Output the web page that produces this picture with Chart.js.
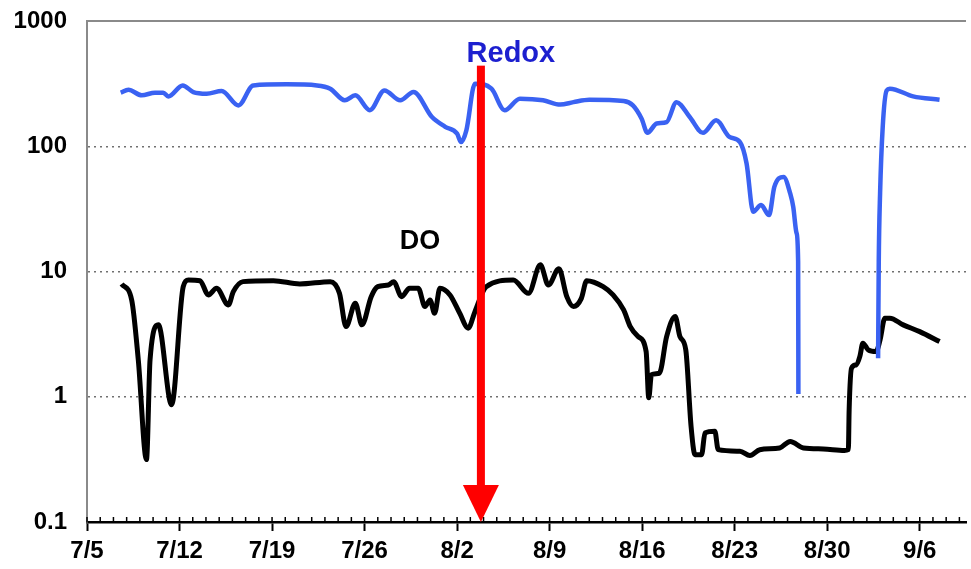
<!DOCTYPE html>
<html>
<head>
<meta charset="utf-8">
<script src="https://cdn.jsdelivr.net/npm/chart.js@4/dist/chart.umd.min.js"></script>
<style>
    body { margin: 0; background: #fff; }
    #caixa { width: 971px; height: 569px; }
</style>
</head>
<body>
<div id="caixa"><canvas id="grafico"></canvas></div>
<script>
// dias contados a partir de 7/5
const tickLabels = ["7/5", "7/12", "7/19", "7/26", "8/2", "8/9", "8/16", "8/23", "8/30", "9/6"];
const yTickValues = [0.1, 1, 10, 100, 1000];

const redoxDays = [
    2.55, 3.13, 4.14, 5.14, 5.77, 6.15, 7.24, 8.04, 9.05, 10.19,
    11.45, 12.58, 15.1, 17.4, 18.4, 19.5, 20.3, 21.4, 22.5, 23.7,
    24.7, 26.1, 27.1, 28.0, 28.3, 28.7, 29.35, 30.6, 31.6, 32.75,
    34.5, 35.8, 36.8, 38.0, 40.6, 41.3, 41.96, 42.4, 43.1, 43.85,
    44.6, 45.6, 46.6, 47.6, 48.6, 49.4, 49.9, 50.4, 51.0, 51.6,
    52.0, 52.7, 53.2, 53.43, 53.68, 53.8, 53.82, 56.5, 59.85, 59.9,
    60.0, 60.2, 60.5, 60.74, 62.5, 64.5
];
const redoxValues = [
    268, 283, 255, 268, 268, 250, 306, 271, 263, 276,
    212, 306, 312, 306, 288, 233, 255, 194, 279, 233,
    271, 171, 143, 126, 108, 134, 316, 288, 194, 240,
    233, 215, 225, 235, 230, 212, 166, 128, 152, 156,
    225, 171, 128, 161, 119, 108, 72.8, 30, 33.9, 28.2,
    47.4, 56.9, 42, 32.8, 20.3, 12, 1.05, null, 2.03, 12,
    42, 143, 279, 288, 250, 235
];

const doDays = [
    2.62, 3.38, 3.88, 4.5, 4.77, 5.4, 6.4, 7.28, 7.67, 8.55,
    9.18, 9.8, 10.7, 11.07, 11.8, 14.1, 16.1, 18.4, 19.1, 19.6,
    20.3, 20.8, 21.5, 22.0, 22.8, 23.2, 23.8, 24.4, 25.06, 25.57,
    25.95, 26.3, 26.7, 27.46, 28.2, 28.84, 29.35, 30.2, 32.25, 33.4,
    34.3, 34.9, 35.7, 36.3, 36.8, 37.4, 37.8, 39.05, 39.8, 40.6,
    41.1, 41.7, 42.3, 42.5, 42.7, 43.3, 43.85, 44.5, 44.86, 45.3,
    45.7, 46.0, 46.5, 46.75, 47.5, 47.75, 49.4, 50.15, 50.9, 52.4,
    53.2, 54.2, 55.7, 57.3, 57.6, 57.66, 57.84, 58.2, 58.47, 58.7,
    59.1, 59.7, 60.0, 60.36, 60.74, 61.75, 63.0, 64.5
];
const doValues = [
    7.95, 5.93, 1.97, 0.315, 1.97, 3.75, 0.863, 7.57, 8.55, 8.45,
    6.5, 7.35, 5.41, 6.9, 8.3, 8.45, 7.95, 8.3, 6.7, 3.63,
    5.58, 3.75, 6.3, 7.57, 7.8, 8.3, 6.3, 7.35, 7.35, 5.25,
    5.93, 4.64, 7.35, 6.5, 4.64, 3.53, 4.78, 7.57, 8.55, 6.7,
    11.3, 7.8, 10.5, 6.3, 5.25, 6.1, 8.45, 7.57, 6.5, 4.93,
    3.63, 3.02, 2.3, 0.98, 1.5, 1.54, 3.02, 4.37, 3.02, 2.37,
    0.58, 0.345, 0.345, 0.513, 0.53, 0.378, 0.367, 0.339, 0.378, 0.39,
    0.44, 0.39, 0.383, 0.373, 0.378, 0.79, 1.69, 1.8, 2.1, 2.68,
    2.37, 2.3, 2.85, 4.24, 4.24, 3.75, 3.31, 2.76
];

// seta vermelha e rotulos
const setaDia = 29.8;
const setaTopo = 440;
const setaPonta = 0.1;
const rotulos = [
    { texto: "Redox", dia: 32.07, valor: 541, cor: "#1c1fcf", fonte: "bold 29px Arial, 'Liberation Sans', sans-serif" },
    { texto: "DO", dia: 25.2, valor: 17.5, cor: "#000000", fonte: "bold 27px Arial, 'Liberation Sans', sans-serif" }
];

const fonteEixo = { family: "Arial, 'Liberation Sans', sans-serif", size: 24, weight: "bold" };

function montarPontos(dias, valores) {
    return dias.map((d, i) => ({ x: d, y: valores[i] }));
}

const extras = {
    id: "extras",
    afterDatasetsDraw(chart) {
        const ctx = chart.ctx;
        const area = chart.chartArea;
        const x = chart.scales.x;
        const y = chart.scales.y;

        ctx.save();

        // borda superior
        ctx.strokeStyle = "#8a8a8a";
        ctx.lineWidth = 2;
        ctx.beginPath();
        ctx.moveTo(area.left, area.top);
        ctx.lineTo(area.right, area.top);
        ctx.stroke();

        // ticks diarios
        ctx.strokeStyle = "#000";
        ctx.lineWidth = 1.5;
        x.ticks.forEach(t => {
            if (!Number.isInteger(t.value)) return;
            const px = x.getPixelForValue(t.value);
            ctx.beginPath();
            ctx.moveTo(px, area.bottom - 5);
            ctx.lineTo(px, area.bottom);
            ctx.stroke();
        });

        // rotulos
        ctx.textAlign = "center";
        ctx.textBaseline = "middle";
        rotulos.forEach(r => {
            ctx.fillStyle = r.cor;
            ctx.font = r.fonte;
            ctx.fillText(r.texto, x.getPixelForValue(r.dia), y.getPixelForValue(r.valor));
        });

        // seta
        const sx = x.getPixelForValue(setaDia);
        const sTopo = y.getPixelForValue(setaTopo);
        const sPonta = y.getPixelForValue(setaPonta);
        const alturaCabeca = 37;
        ctx.fillStyle = "#ff0000";
        ctx.fillRect(sx - 4, sTopo, 8, sPonta - alturaCabeca - sTopo + 1);
        ctx.beginPath();
        ctx.moveTo(sx - 18, sPonta - alturaCabeca);
        ctx.lineTo(sx + 18, sPonta - alturaCabeca);
        ctx.lineTo(sx, sPonta);
        ctx.closePath();
        ctx.fill();

        ctx.restore();
    }
};

document.addEventListener("DOMContentLoaded", () => {
    const ctx = document.getElementById("grafico").getContext("2d");

    new Chart(ctx, {
        type: "line",
        data: {
            datasets: [
                {
                    label: "Redox",
                    data: montarPontos(redoxDays, redoxValues),
                    borderColor: "#3a62f2",
                    borderWidth: 4.5,
                    pointRadius: 0,
                    cubicInterpolationMode: "monotone",
                    spanGaps: false
                },
                {
                    label: "DO",
                    data: montarPontos(doDays, doValues),
                    borderColor: "#000000",
                    borderWidth: 5,
                    pointRadius: 0,
                    cubicInterpolationMode: "monotone"
                }
            ]
        },
        options: {
            responsive: true,
            maintainAspectRatio: false,
            animation: false,
            layout: {
                padding: { top: 21, right: 5, left: 0, bottom: 0 }
            },
            plugins: {
                legend: { display: false },
                tooltip: { enabled: false }
            },
            scales: {
                x: {
                    type: "linear",
                    min: 0,
                    max: 66.5,
                    afterBuildTicks: axis => {
                        axis.ticks = [];
                        for (let d = 0; d <= 66; d++) axis.ticks.push({ value: d });
                    },
                    afterFit: axis => { axis.height = 47; },
                    border: { display: true, color: "#000", width: 2.5 },
                    grid: {
                        drawOnChartArea: false,
                        drawTicks: true,
                        tickLength: 9,
                        tickWidth: 2,
                        color: "#000",
                        tickColor: c => (c.tick && c.tick.value % 7 === 0) ? "#000" : "rgba(0,0,0,0)"
                    },
                    ticks: {
                        autoSkip: false,
                        maxRotation: 0,
                        padding: 6,
                        color: "#000",
                        font: fonteEixo,
                        callback: v => (v % 7 === 0) ? tickLabels[v / 7] : ""
                    }
                },
                y: {
                    type: "logarithmic",
                    min: 0.1,
                    max: 1000,
                    afterBuildTicks: axis => {
                        axis.ticks = yTickValues.map(v => ({ value: v }));
                    },
                    afterFit: axis => {
                        axis.width = 87;
                        axis.paddingTop = 0;
                        axis.paddingBottom = 0;
                    },
                    border: { display: true, color: "#8a8a8a", width: 2, dash: [2, 4] },
                    grid: {
                        drawTicks: false,
                        lineWidth: 1.5,
                        color: c => {
                            const v = c.tick ? c.tick.value : 0;
                            return (v > 0.1 && v < 1000) ? "#707070" : "rgba(0,0,0,0)";
                        }
                    },
                    ticks: {
                        padding: 20,
                        color: "#000",
                        font: fonteEixo,
                        callback: v => String(v)
                    }
                }
            }
        },
        plugins: [extras]
    });
});
</script>
</body>
</html>
